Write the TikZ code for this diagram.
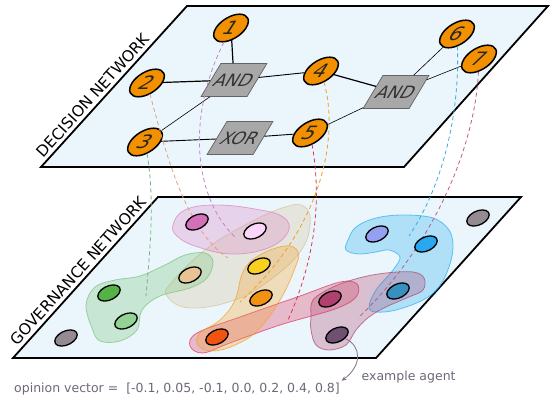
\documentclass[tikz,border=0pt]{standalone}
\usepackage{fontspec}
\setmainfont{DejaVu Sans}
\usetikzlibrary{arrows.meta, positioning, calc}

\definecolor{planefill}{RGB}{235,246,252}
\definecolor{nodeorange}{RGB}{243,144,0}
\definecolor{gatefill}{RGB}{168,168,168}
\definecolor{gateedge}{RGB}{100,100,100}
\definecolor{notegray}{RGB}{112,102,120}
\definecolor{pointergray}{RGB}{133,112,137}
% coalitions
\definecolor{pinkblob}{RGB}{222,130,196}
\definecolor{tanblob}{RGB}{214,196,150}
\definecolor{greenblob}{RGB}{120,196,120}
\definecolor{orangeblob}{RGB}{245,160,40}
\definecolor{redblob}{RGB}{225,50,90}
\definecolor{blueblob}{RGB}{40,175,240}
\definecolor{maroonblob}{RGB}{175,70,110}
% agents
\definecolor{agpink}{RGB}{212,112,184}
\definecolor{aglilac}{RGB}{250,215,250}
\definecolor{agtan}{RGB}{232,196,148}
\definecolor{aggreen}{RGB}{84,178,70}
\definecolor{aglgreen}{RGB}{146,210,146}
\definecolor{aggrey}{RGB}{148,138,146}
\definecolor{agyellow}{RGB}{250,208,30}
\definecolor{agorange}{RGB}{242,146,18}
\definecolor{agred}{RGB}{240,84,16}
\definecolor{agperi}{RGB}{150,160,240}
\definecolor{agblue}{RGB}{40,168,240}
\definecolor{agsteel}{RGB}{56,144,192}
\definecolor{agmaroon}{RGB}{176,64,112}
\definecolor{agplum}{RGB}{112,80,112}
% ties
\definecolor{tiepink}{RGB}{200,130,200}
\definecolor{tietan}{RGB}{224,160,120}
\definecolor{tiegreen}{RGB}{120,180,130}
\definecolor{tieorange}{RGB}{240,160,40}
\definecolor{tiered}{RGB}{220,50,80}
\definecolor{tieblue}{RGB}{60,170,220}
\definecolor{tiemaroon}{RGB}{190,90,140}

\tikzset{
    decision/.style ={circle, draw, line width=1.5pt, fill=nodeorange, minimum size=30pt,
                      inner sep=0pt, xslant=0.63, yscale=0.92, text=black!85,
                      font=\fontsize{20}{20}\selectfont},
    gate/.style = {rectangle, draw=gateedge, line width=0.7pt, fill=gatefill, minimum width=46pt,
                   minimum height=33pt, inner sep=0pt, xslant=0.6, text=black!80,
                   font=\fontsize{17}{17}\selectfont},
    agent/.style = {circle, draw, line width=1.3pt, minimum size=20.6pt, inner sep=0pt,
                    xslant=0.55, yscale=0.785},
    plane/.style = {draw, line width=1.8pt, fill=planefill},
    netlabel/.style = {sloped, above, inner sep=3pt, font=\fontsize{15.5}{15.5}\selectfont},
    blob/.style = {line width=0.8pt, fill opacity=0.3, draw opacity=0.7},
    link/.style = {draw, line width=1.2pt},
    midlink/.style = {draw, line width=0.9pt},
    thinlink/.style = {draw, line width=0.6pt},
    tie/.style = {dash pattern=on 4pt off 3pt, line width=0.8pt},
    note/.style = {text=notegray, inner sep=1.5pt, font=\fontsize{12.5}{12.5}\selectfont},
    pointer/.style = {-{Stealth[length=5pt, width=4pt]}, pointergray, line width=0.8pt}
}

\begin{document}
\begin{tikzpicture}[x=1pt, y=-1pt]
    \useasboundingbox (0,0) rectangle (556,406);

    % the two layers
    \draw[plane] (41,167) -- (187,6) node[netlabel, pos=0.405] (declabel) {DECISION NETWORK}
        -- (548,6) -- (404,167) -- cycle;
    \draw[plane] (13,358) -- (158,197) node[netlabel, pos=0.5] (govlabel) {GOVERNANCE NETWORK}
        -- (521,197) -- (376,358) -- cycle;

    % coalitions
    \filldraw[blob, draw=tanblob, fill=tanblob] plot[smooth cycle, tension=0.7] coordinates
        {(167,296) (172,282) (205,250) (245,225) (285,207) (305,207) (310,225) (300,252)
         (270,280) (235,300) (190,308)};
    \filldraw[blob, draw=pinkblob, fill=pinkblob] plot[smooth cycle, tension=0.7] coordinates
        {(173,225) (185,210) (215,205) (255,209) (283,217) (288,232) (268,248) (232,254)
         (198,247) (178,237)};
    \filldraw[blob, draw=greenblob, fill=greenblob] plot[smooth cycle, tension=0.6] coordinates
        {(86,305) (95,287) (115,280) (140,276) (165,265) (185,255) (205,253) (213,262)
         (207,278) (190,288) (160,296) (142,310) (137,330) (120,341) (100,341) (92,328)};
    \filldraw[blob, draw=redblob, fill=redblob] plot[smooth cycle, tension=0.6] coordinates
        {(190,346) (197,333) (240,317) (300,296) (340,282) (357,284) (356,297) (335,309)
         (280,325) (230,343) (203,353)};
    \filldraw[blob, draw=orangeblob, fill=orangeblob] plot[smooth cycle, tension=0.7] coordinates
        {(198,345) (212,351) (235,345) (258,330) (280,300) (295,268) (298,252) (285,246)
         (258,256) (243,272) (235,300) (220,320) (200,333)};
    \filldraw[blob, draw=blueblob, fill=blueblob] plot[smooth cycle, tension=0.6] coordinates
        {(346,250) (348,240) (356,227) (376,218) (403,215) (433,218) (449,230) (453,247)
         (449,267) (439,287) (423,300) (396,310) (376,312) (369,307) (376,290) (393,270)
         (400,257) (389,250) (376,252) (359,254)};
    \filldraw[blob, draw=maroonblob, fill=maroonblob] plot[smooth cycle, tension=0.6] coordinates
        {(311,317) (313,300) (333,287) (359,278) (386,273) (413,272) (424,278) (423,290)
         (409,297) (386,307) (369,317) (356,330) (346,345) (329,350) (316,345) (311,330)};

    % decision network
    \node[decision] (d1) at (231,28) {1};
    \node[decision] (d2) at (147,83) {2};
    \node[decision] (d3) at (145,142) {3};
    \node[decision] (d4) at (321,71) {4};
    \node[decision] (d5) at (310,133) {5};
    \node[decision] (d6) at (457,34) {6};
    \node[decision] (d7) at (479,59) {7};
    \node[gate] (g1) at (234,80) {AND};
    \node[gate] (g2) at (240,138) {XOR};
    \node[gate] (g3) at (396,92) {AND};

    \path (d1) edge[link] (g1);
    \path (d2) edge[link] (g1);
    \path (g1) edge[midlink] (d4);
    \path (g1) edge[thinlink] (d3);
    \path (d3) edge[midlink] (g2);
    \path (g2) edge[midlink] (d5);
    \path (d4) edge[link] (g3);
    \path (d5) edge[thinlink] (g3);
    \path (g3) edge[thinlink] (d6);
    \path (g3) edge[thinlink] (d7);

    % where each decision lands
    \coordinate (e1) at (236,238);
    \coordinate (e2) at (228,258);
    \coordinate (e3) at (146,296);
    \coordinate (e4) at (240,302);
    \coordinate (e5) at (288,320);
    \coordinate (e6) at (409,236);
    \coordinate (e7) at (358,318);
    \draw[tie, tiepink] (d1) .. controls (185,120) and (195,200) .. (e1);
    \draw[tie, tietan] (d2) .. controls (165,150) and (185,230) .. (e2);
    \draw[tie, tiegreen] (d3) .. controls (155,200) and (150,250) .. (e3);
    \draw[tie, tieorange] (d4) .. controls (340,140) and (320,230) .. (e4);
    \draw[tie, tiered] (d5) .. controls (322,200) and (315,260) .. (e5);
    \draw[tie, tieblue] (d6) .. controls (460,120) and (440,190) .. (e6);
    \draw[tie, tiemaroon] (d7) .. controls (475,150) and (430,250) .. (e7);

    % governance network
    \node[agent, fill=agpink] (a1) at (197,222) {};
    \node[agent, fill=aglilac] (a2) at (255,231) {};
    \node[agent, fill=agtan] (a3) at (190,275) {};
    \node[agent, fill=aggreen] (a4) at (109,293) {};
    \node[agent, fill=aglgreen] (a5) at (126,321) {};
    \node[agent, fill=aggrey] (a6) at (66,338) {};
    \node[agent, fill=agyellow] (a7) at (259,266) {};
    \node[agent, fill=agorange] (a8) at (261,298) {};
    \node[agent, fill=agred] (a9) at (217,337) {};
    \node[agent, fill=aggrey] (a10) at (478,218) {};
    \node[agent, fill=agperi] (a11) at (377,234) {};
    \node[agent, fill=agblue] (a12) at (426,244) {};
    \node[agent, fill=agsteel] (a13) at (398,291) {};
    \node[agent, fill=agmaroon] (a14) at (330,299) {};
    \node[agent, fill=agplum] (a15) at (337,335) {};

    \node[note, anchor=base west] (vec) at (12.5,392)
        {opinion vector = \ [-0.1, 0.05, -0.1, 0.0, 0.2, 0.4, 0.8]};
    \node[note, anchor=west] (example) at (360,377) {example agent};
    \draw[pointer] (a15) .. controls (362,346) and (362,366) .. (vec.north east);
\end{tikzpicture}
\end{document}
